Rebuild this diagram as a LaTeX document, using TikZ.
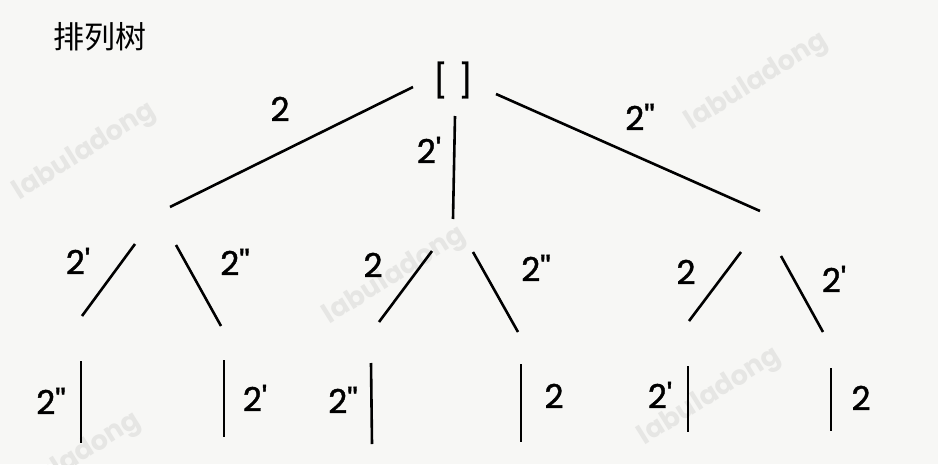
\documentclass[tikz,border=0pt]{standalone}
\usepackage{fontspec}
\newfontfamily\lbl{Poppins}[FakeBold=1.2]
\newfontfamily\wmfont{Poppins}
\newfontfamily\cjk{Noto Sans CJK SC}
\definecolor{bg}{RGB}{247,247,245}
\definecolor{wm}{RGB}{230,230,228}
\begin{document}
\begin{tikzpicture}[x=1pt,y=-1pt,
  edge/.style={line width=2.6pt,black},
  elabel/.style={font=\lbl\fontsize{33}{36}\selectfont,inner sep=0pt,anchor=center},
  wmark/.style={font=\wmfont\bfseries\fontsize{27}{29}\selectfont,text=wm,rotate=32,inner sep=0pt}]
\fill[bg] (0,0) rectangle (938,464);
\useasboundingbox (0,0) rectangle (938,464);
% watermarks
\node[wmark] (w1) at (85,152) {labuladong};
\node[wmark] (w2) at (757,82) {labuladong};
\node[wmark] (w3) at (395,276) {labuladong};
\node[wmark] (w4) at (710,397) {labuladong};
\node[wmark] (w5) at (70,462) {labuladong};
% title
\node[font=\cjk\fontsize{31}{33}\selectfont,inner sep=0pt] (title) at (100,37) {排列树};
% root
\node[font=\lbl\fontsize{33}{36}\selectfont,inner sep=0pt] (root) at (453,80) {[\,\,]};
% level 1 connectors
\coordinate (r1a) at (413,87);  \coordinate (r1b) at (170,207);
\coordinate (r2a) at (455,116); \coordinate (r2b) at (453,219);
\coordinate (r3a) at (496,94);  \coordinate (r3b) at (760,211);
\draw[edge] (r1a) -- (r1b);
\draw[edge] (r2a) -- (r2b);
\draw[edge] (r3a) -- (r3b);
\node[elabel] (l1) at (280,109) {2};
\node[elabel] (l2) at (429,150) {2'};
\node[elabel] (l3) at (640,117) {2''};
% level 2, left
\coordinate (a1a) at (135,244); \coordinate (a1b) at (82,316);
\coordinate (a2a) at (176,245); \coordinate (a2b) at (221,326);
\draw[edge] (a1a) -- (a1b);
\draw[edge] (a2a) -- (a2b);
\node[elabel] (la1) at (78,261) {2'};
\node[elabel] (la2) at (235,262) {2''};
% level 2, middle
\coordinate (b1a) at (432,251); \coordinate (b1b) at (379,322);
\coordinate (b2a) at (473,252); \coordinate (b2b) at (518,332);
\draw[edge] (b1a) -- (b1b);
\draw[edge] (b2a) -- (b2b);
\node[elabel] (lb1) at (373,265) {2};
\node[elabel] (lb2) at (536,268) {2''};
% level 2, right
\coordinate (c1a) at (741,252); \coordinate (c1b) at (689,321);
\coordinate (c2a) at (781,256); \coordinate (c2b) at (823,332);
\draw[edge] (c1a) -- (c1b);
\draw[edge] (c2a) -- (c2b);
\node[elabel] (lc1) at (686,272) {2};
\node[elabel] (lc2) at (834,279) {2'};
% level 3
\coordinate (d1a) at (81,361);  \coordinate (d1b) at (81,443);
\coordinate (d2a) at (224,360); \coordinate (d2b) at (224,437);
\coordinate (d3a) at (371,363); \coordinate (d3b) at (372,444);
\coordinate (d4a) at (521,364); \coordinate (d4b) at (521,442);
\coordinate (d5a) at (688,366); \coordinate (d5b) at (688,432);
\coordinate (d6a) at (831,368); \coordinate (d6b) at (831,431);
\draw[edge] (d1a) -- (d1b);
\draw[edge] (d2a) -- (d2b);
\draw[edge] (d3a) -- (d3b);
\draw[edge] (d4a) -- (d4b);
\draw[edge] (d5a) -- (d5b);
\draw[edge] (d6a) -- (d6b);
\node[elabel] (ld1) at (51,401) {2''};
\node[elabel] (ld2) at (255,398) {2'};
\node[elabel] (ld3) at (343,400) {2''};
\node[elabel] (ld4) at (554,396) {2};
\node[elabel] (ld5) at (660,395) {2'};
\node[elabel] (ld6) at (861,398) {2};
\end{tikzpicture}
\end{document}
